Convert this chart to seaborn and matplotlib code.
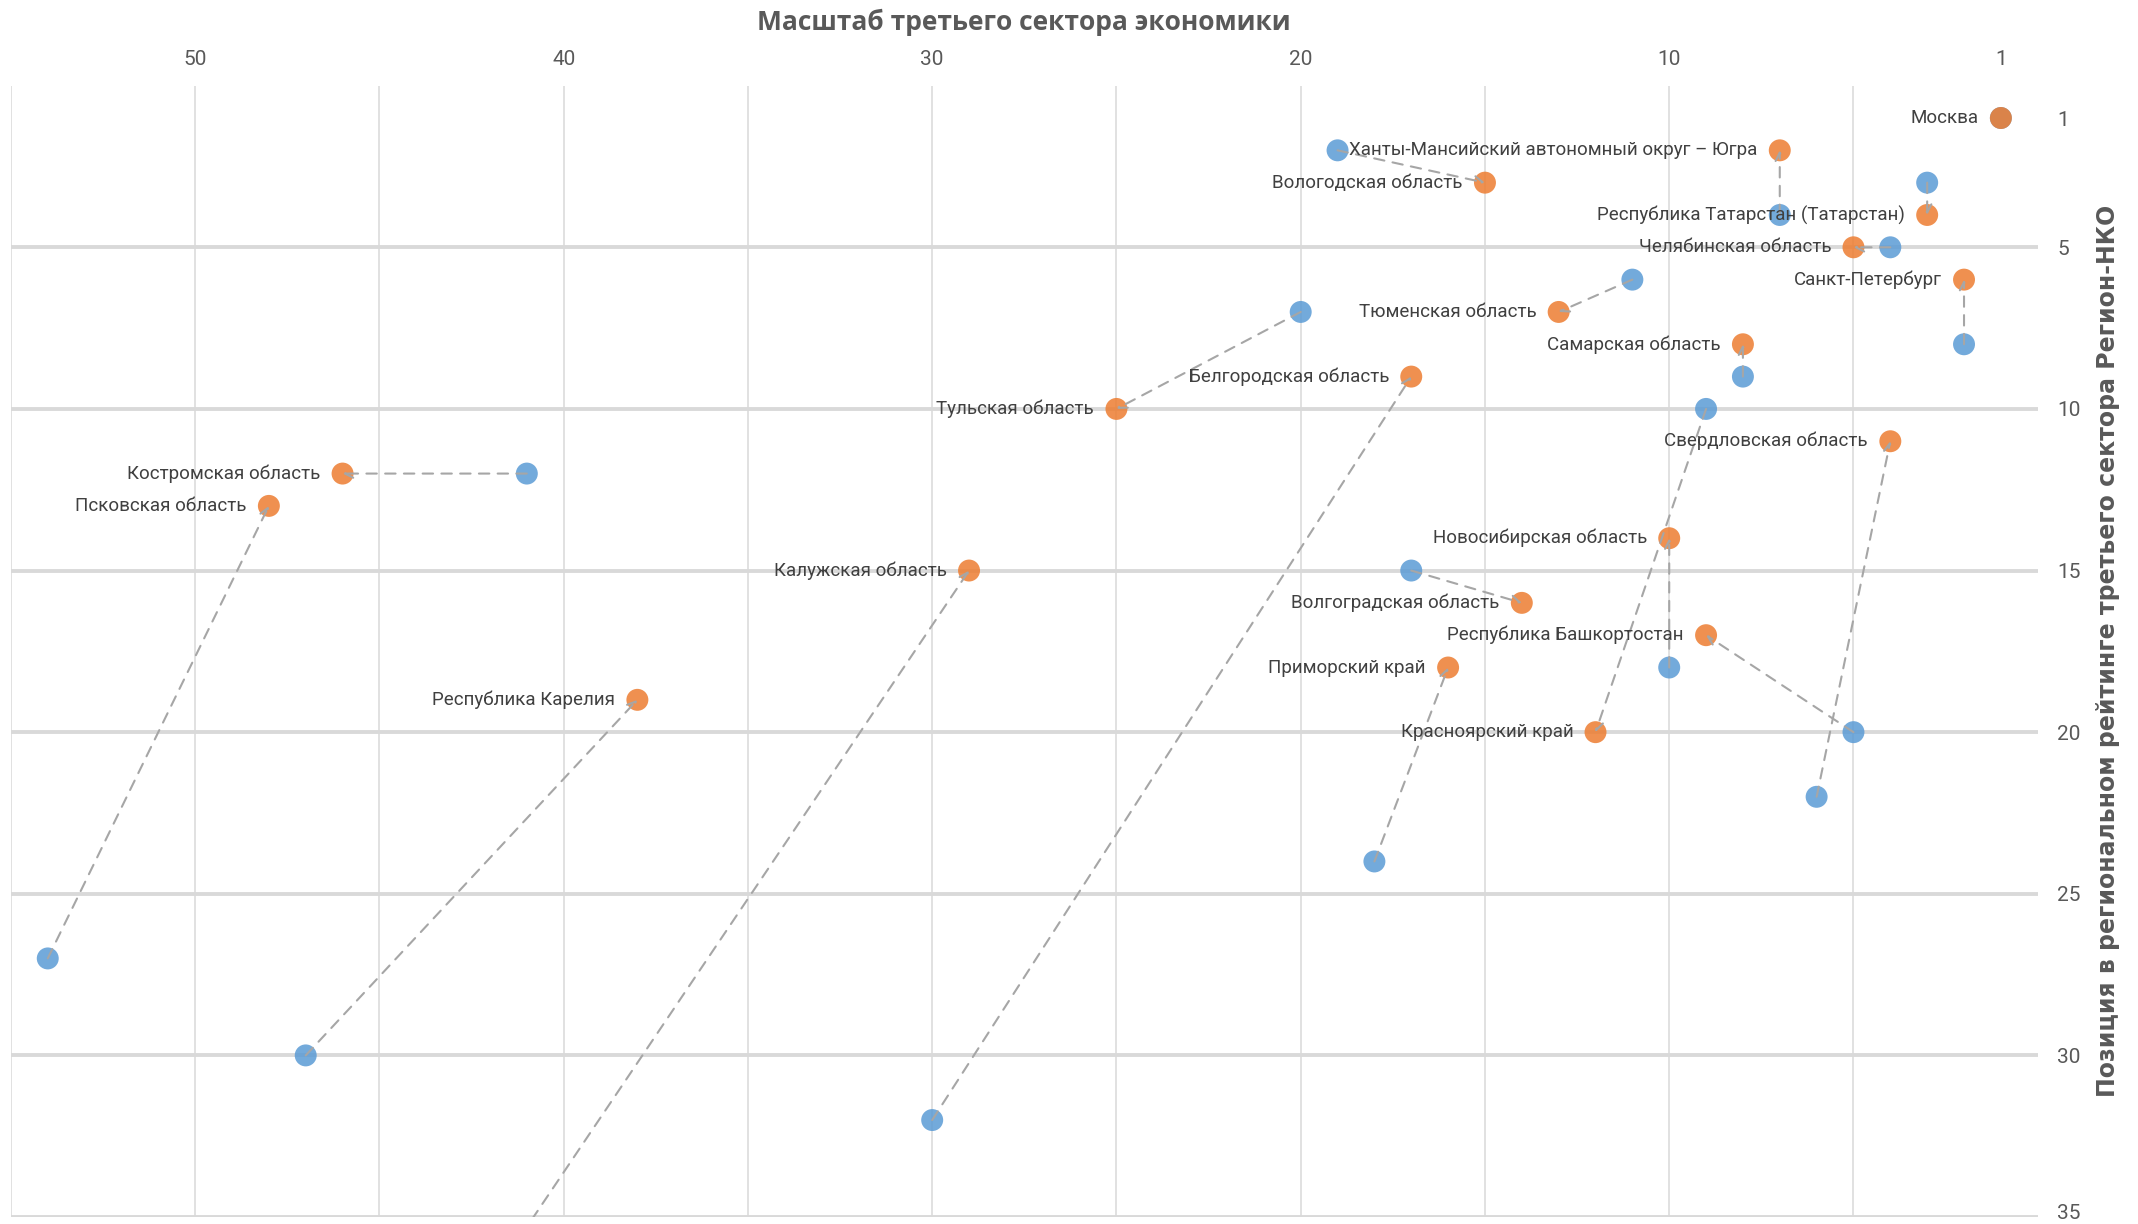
import matplotlib
matplotlib.use("Agg")
import matplotlib.pyplot as plt
import matplotlib.transforms as mtransforms
import pandas as pd
import seaborn as sns

# регионы: старая позиция (синие) -> новая позиция (оранжевые)
regions = ['Москва', 'Ханты-Мансийский автономный округ – Югра', 'Вологодская область',
           'Республика Татарстан (Татарстан)', 'Челябинская область', 'Санкт-Петербург',
           'Тюменская область', 'Самарская область', 'Белгородская область', 'Тульская область',
           'Свердловская область', 'Костромская область', 'Псковская область',
           'Новосибирская область', 'Калужская область', 'Волгоградская область',
           'Республика Башкортостан', 'Приморский край', 'Республика Карелия', 'Красноярский край']
old_scale = [1, 7, 19, 3, 4, 2, 11, 8, 30, 20, 6, 41, 54, 10, 42, 17, 5, 18, 47, 9]
old_rank = [1, 4, 2, 3, 5, 8, 6, 9, 32, 7, 22, 12, 27, 18, 37, 15, 20, 24, 30, 10]
new_scale = [1, 7, 15, 3, 5, 2, 13, 8, 17, 25, 4, 46, 48, 10, 29, 14, 9, 16, 38, 12]
new_rank = [1, 2, 3, 4, 5, 6, 7, 8, 9, 10, 11, 12, 13, 14, 15, 16, 17, 18, 19, 20]

x_ticks = [50, 40, 30, 20, 10, 1]
y_ticks = [1, 5, 10, 15, 20, 25, 30, 35]
x_grid = [5, 10, 15, 20, 25, 30, 35, 40, 45, 50, 55]
y_grid = [5, 10, 15, 20, 25, 30, 35]

old_df = pd.DataFrame({'Регион': regions, 'x': old_scale, 'y': old_rank})
new_df = pd.DataFrame({'Регион': regions, 'x': new_scale, 'y': new_rank})

sns.set_theme(style='white')
fonts = ['Roboto', 'DejaVu Sans']
plt.rcParams['font.family'] = fonts

fig = plt.figure(figsize=(21.38, 12.24), dpi=100)
ax = fig.add_axes([0.0051, 0.0057, 0.948, 0.9243])

blue = '#5B9BD5'
orange = '#ED7D31'

for gx in x_grid:
    ax.axvline(gx, color='#DCDCDC', lw=1.2, zorder=0)
for gy in y_grid:
    ax.axhline(gy, color='#D9D9D9', lw=2.8, zorder=0)

sns.scatterplot(data=old_df, x='x', y='y', ax=ax, color=blue, s=250, alpha=0.85,
                edgecolor='none', zorder=3, clip_on=False)
sns.scatterplot(data=new_df, x='x', y='y', ax=ax, color=orange, s=250, alpha=0.85,
                edgecolor='none', zorder=4, clip_on=False)

for i in range(len(regions)):
    if old_scale[i] == new_scale[i] and old_rank[i] == new_rank[i]:
        continue
    ann = ax.annotate('', xy=(new_scale[i], new_rank[i]), xytext=(old_scale[i], old_rank[i]),
                      arrowprops=dict(arrowstyle='->', color='#A6A6A6', lw=1.5,
                                      linestyle=(0, (5, 4)), shrinkA=0, shrinkB=0,
                                      mutation_scale=15),
                      zorder=5, annotation_clip=False)
    ann.arrow_patch.set_clip_box(ax.bbox)
    ann.arrow_patch.set_clip_on(True)

for i in range(len(regions)):
    ax.annotate(regions[i], xy=(new_scale[i], new_rank[i]), xytext=(-16, 0),
                textcoords='offset points', ha='right', va='center',
                fontsize=13.5, color='#404040', zorder=6)

ax.set_xlim(55, 0)
ax.set_ylim(35, 0)

ax.xaxis.tick_top()
ax.yaxis.tick_right()
ax.set_xticks(x_ticks)
ax.set_yticks(y_ticks)
ax.tick_params(axis='both', which='both', length=0, labelsize=15, labelcolor='#595959')
ax.tick_params(axis='x', pad=12)
ax.tick_params(axis='y', pad=14)
ax.grid(False)
for side in ['top', 'right', 'bottom', 'left']:
    ax.spines[side].set_visible(False)
ax.set_xlabel('')
ax.set_ylabel('')

# нижняя подпись "35" чуть выше, чтобы не обрезалась краем
last = ax.get_yticklabels()[-1]
last.set_transform(last.get_transform() + mtransforms.ScaledTranslation(0, 4 / 72, fig.dpi_scale_trans))

fig.text(0.479, 0.982, 'Масштаб третьего сектора экономики', ha='center', va='center',
         fontsize=19, fontweight='bold', color='#595959', family=['Open Sans', 'DejaVu Sans'])
fig.text(0.986, 0.468, 'Позиция в региональном рейтинге третьего сектора Регион-НКО',
         ha='center', va='center', rotation=90, fontsize=17, fontweight='bold',
         color='#595959', family=['DejaVu Sans'])

fig.savefig('out.png', dpi=100)
